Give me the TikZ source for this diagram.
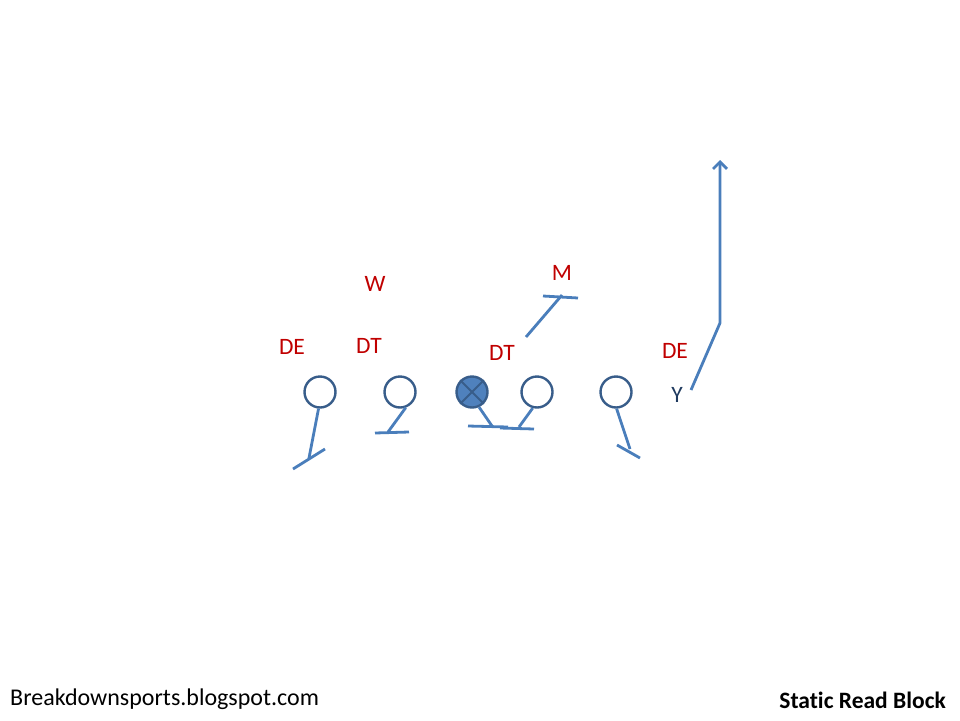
\documentclass[tikz,border=0pt]{standalone}
\usepackage{fontspec}
\setmainfont[Ligatures=NoCommon]{Carlito}
\usetikzlibrary{arrows.meta}
\definecolor{ringc}{HTML}{385D8A}
\definecolor{blockc}{HTML}{4A7EBB}
\definecolor{fillc}{HTML}{4F81BD}
\definecolor{defc}{HTML}{C00000}
\definecolor{ytext}{HTML}{1F3A5F}
\tikzset{
  player/.style={circle, draw=ringc, line width=2.4pt, minimum size=31pt, inner sep=0pt},
  blk/.style={draw=blockc, line width=2.8pt},
  deflabel/.style={text=defc, font=\fontsize{23.5}{27}\selectfont, inner sep=0pt},
  foot/.style={text=black, font=\fontsize{24}{28}\selectfont, inner sep=0pt}
}
\begin{document}
\begin{tikzpicture}[x=1pt,y=-1pt]
\useasboundingbox (0,0) rectangle (960,720);
% players
\node[player] (lt) at (320,392) {};
\node[player] (lg) at (400,392) {};
\node[player, fill=fillc] (c) at (472,392) {};
\node[player] (rg) at (537,392) {};
\node[player] (rt) at (616,392) {};
\draw[ringc, line width=2pt] (c.north west) -- (c.south east) (c.north east) -- (c.south west);
\node[text=ytext, font=\fontsize{23.5}{27}\selectfont, inner sep=0pt] (y) at (677,395) {Y};
% defenders
\node[deflabel] (w) at (375,284) {W};
\node[deflabel] (m) at (562,273) {M};
\node[deflabel] (de1) at (292,347) {DE};
\node[deflabel] (dt1) at (369,346) {DT};
\node[deflabel] (dt2) at (502,353) {DT};
\node[deflabel] (de2) at (675,351) {DE};
% block coordinates
\coordinate (ltk) at (309,458);
\coordinate (lta) at (293,469);
\coordinate (ltb) at (325,449);
\coordinate (lgk) at (388,432);
\coordinate (lga) at (375,433);
\coordinate (lgb) at (409,432);
\coordinate (ck) at (492,426);
\coordinate (ca) at (468,426);
\coordinate (cb) at (508,427);
\coordinate (rgk) at (519,427);
\coordinate (rga) at (500,428);
\coordinate (rgb) at (534,429);
\coordinate (rtk) at (630,449);
\coordinate (rta) at (617,445);
\coordinate (rtb) at (640,458);
\coordinate (ms) at (526,337);
\coordinate (mk) at (562,295);
\coordinate (ma) at (543,296);
\coordinate (mb) at (578,298);
\coordinate (ys) at (691,390);
\coordinate (yk) at (720,323);
\coordinate (ye) at (720,160);
% blocks
\draw[blk] (lt.-95) -- (ltk); \draw[blk] (lta) -- (ltb);
\draw[blk] (lg.-70) -- (lgk); \draw[blk] (lga) -- (lgb);
\draw[blk] (c.-65) -- (ck); \draw[blk] (ca) -- (cb);
\draw[blk] (rg.-105) -- (rgk); \draw[blk] (rga) -- (rgb);
\draw[blk] (rt.-88) -- (rtk); \draw[blk] (rta) -- (rtb);
\draw[blk] (ms) -- (mk); \draw[blk] (ma) -- (mb);
\draw[blk, -{Straight Barb[length=7pt,width=14pt,line width=2.8pt]}] (ys) -- (yk) -- (ye);
% footer
\node[foot, anchor=west] (site) at (10,699) {Breakdownsports.blogspot.com};
\node[foot, anchor=east, font=\fontsize{23.5}{28}\selectfont\bfseries] (title) at (946,700) {Static Read Block};
\end{tikzpicture}
\end{document}
